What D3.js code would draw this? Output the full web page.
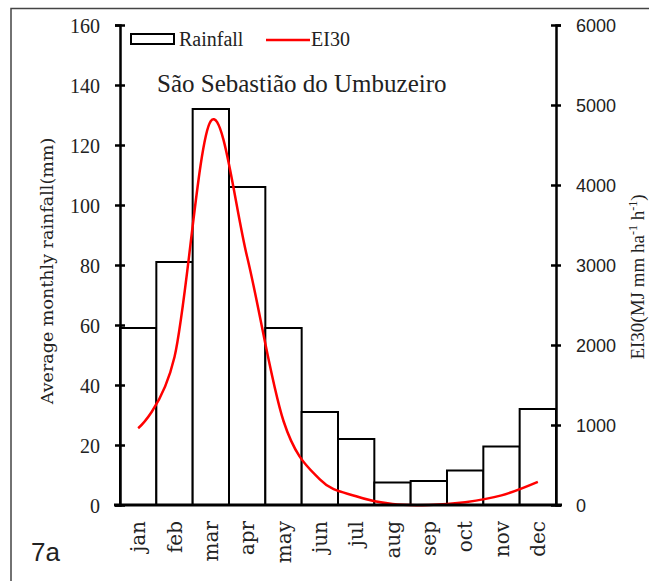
<!DOCTYPE html>
<html>
<head>
<meta charset="utf-8">
<script src="https://cdn.jsdelivr.net/npm/d3@7"></script>
<style>
  body { margin: 0; background: #fff; }
  svg { display: block; }
</style>
</head>
<body>
<svg id="chart" width="649" height="581"></svg>
<script>
var months = ["jan","feb","mar","apr","may","jun","jul","aug","sep","oct","nov","dec"];
var rainfall = [59, 81, 132, 106, 59, 31, 22, 7.5, 8, 11.5, 19.5, 32];
var ei30 = [960, 1850, 4800, 3100, 1050, 320, 110, 12, 0, 35, 120, 290];
var leftTicks = [0, 20, 40, 60, 80, 100, 120, 140, 160];
var rightTicks = [0, 1000, 2000, 3000, 4000, 5000, 6000];

(function() {
    var svg = d3.select("#chart");
    var plotLeft = 120, plotRight = 556, plotTop = 25, plotBottom = 505;

    var x = d3.scaleBand().domain(months).range([plotLeft, plotRight]).padding(0);
    var yL = d3.scaleLinear().domain([0, 160]).range([plotBottom, plotTop]);
    var yR = d3.scaleLinear().domain([0, 6000]).range([plotBottom, plotTop]);

    // frame
    svg.append("path")
        .attr("d", "M11,581V8.5H660")
        .attr("fill", "none")
        .attr("stroke", "#444")
        .attr("stroke-width", 1.5);

    // bars
    svg.selectAll("rect.bar")
        .data(rainfall)
        .enter().append("rect")
        .attr("class", "bar")
        .attr("x", function(d, i) { return x(months[i]); })
        .attr("y", function(d) { return yL(d); })
        .attr("width", x.bandwidth())
        .attr("height", function(d) { return yL(0) - yL(d); })
        .attr("fill", "#fff")
        .attr("stroke", "#000")
        .attr("stroke-width", 2);

    // EI30 line
    var line = d3.line()
        .x(function(d, i) { return x(months[i]) + x.bandwidth() / 2; })
        .y(function(d) { return yR(d); })
        .curve(d3.curveCatmullRom.alpha(0));

    svg.append("path")
        .datum(ei30)
        .attr("d", line)
        .attr("fill", "none")
        .attr("stroke", "#ff0000")
        .attr("stroke-width", 2.5);

    // left axis
    var gL = svg.append("g")
        .attr("transform", "translate(" + plotLeft + ",0)")
        .call(d3.axisLeft(yL).tickValues(leftTicks).tickSize(5).tickPadding(15));
    gL.select(".domain").attr("stroke-width", 2.5);
    gL.selectAll(".tick line").attr("x1", -5).attr("x2", 5).attr("stroke-width", 2.5);
    gL.selectAll(".tick text")
        .style("font-family", "'Liberation Serif', serif")
        .style("font-size", "20px")
        .attr("fill", "#222")
        .attr("dy", "0.35em");

    // right axis
    var gR = svg.append("g")
        .attr("transform", "translate(" + plotRight + ",0)")
        .call(d3.axisRight(yR).tickValues(rightTicks).tickFormat(d3.format("d"))
            .tickSize(5).tickPadding(15));
    gR.select(".domain").attr("stroke-width", 2.5);
    gR.selectAll(".tick line").attr("x1", -5).attr("x2", 5).attr("stroke-width", 2.5);
    gR.selectAll(".tick text")
        .style("font-family", "'Liberation Sans', sans-serif")
        .style("font-size", "18px")
        .attr("fill", "#222")
        .attr("dy", "0.35em");

    // x baseline
    svg.append("line")
        .attr("x1", plotLeft - 6).attr("x2", plotRight + 6)
        .attr("y1", plotBottom).attr("y2", plotBottom)
        .attr("stroke", "#000")
        .attr("stroke-width", 3);

    // month labels
    svg.selectAll("text.month")
        .data(months)
        .enter().append("text")
        .attr("class", "month")
        .attr("transform", function(d) {
            return "translate(" + (x(d) + x.bandwidth() / 2 + 7) + "," + (plotBottom + 16) + ") rotate(-90)";
        })
        .attr("text-anchor", "end")
        .style("font-family", "'DejaVu Serif', serif")
        .style("font-size", "20px")
        .attr("fill", "#222")
        .text(function(d) { return d; });

    // axis titles
    svg.append("text")
        .attr("transform", "translate(53,271) rotate(-90)")
        .attr("text-anchor", "middle")
        .style("font-family", "'DejaVu Serif', serif")
        .style("font-size", "17.5px")
        .attr("fill", "#222")
        .text("Average monthly rainfall(mm)");

    var rt = svg.append("text")
        .attr("transform", "translate(644,277) rotate(-90)")
        .attr("text-anchor", "middle")
        .style("font-family", "'Liberation Serif', serif")
        .style("font-size", "19px")
        .attr("fill", "#222");
    rt.append("tspan").text("EI30(MJ mm ha");
    rt.append("tspan").attr("dy", -7).style("font-size", "12px").text("-1");
    rt.append("tspan").attr("dy", 7).text(" h");
    rt.append("tspan").attr("dy", -7).style("font-size", "12px").text("-1");
    rt.append("tspan").attr("dy", 7).text(")");

    // legend
    svg.append("rect")
        .attr("x", 131).attr("y", 34).attr("width", 43).attr("height", 10)
        .attr("fill", "#fff").attr("stroke", "#000").attr("stroke-width", 2);
    svg.append("text")
        .attr("x", 179).attr("y", 46)
        .style("font-family", "'Liberation Serif', serif")
        .style("font-size", "20px")
        .attr("fill", "#222")
        .text("Rainfall");
    svg.append("line")
        .attr("x1", 266).attr("x2", 310).attr("y1", 40).attr("y2", 40)
        .attr("stroke", "#ff0000").attr("stroke-width", 2.5);
    svg.append("text")
        .attr("x", 311).attr("y", 46)
        .style("font-family", "'Liberation Serif', serif")
        .style("font-size", "20px")
        .attr("fill", "#222")
        .text("EI30");

    // title
    svg.append("text")
        .attr("x", 157).attr("y", 92)
        .style("font-family", "'Liberation Serif', serif")
        .style("font-size", "25px")
        .attr("fill", "#222")
        .text("São Sebastião do Umbuzeiro");

    // panel label
    svg.append("text")
        .attr("x", 31).attr("y", 561)
        .style("font-family", "'Liberation Sans', sans-serif")
        .style("font-size", "26px")
        .attr("fill", "#222")
        .text("7a");
})();
</script>
</body>
</html>
